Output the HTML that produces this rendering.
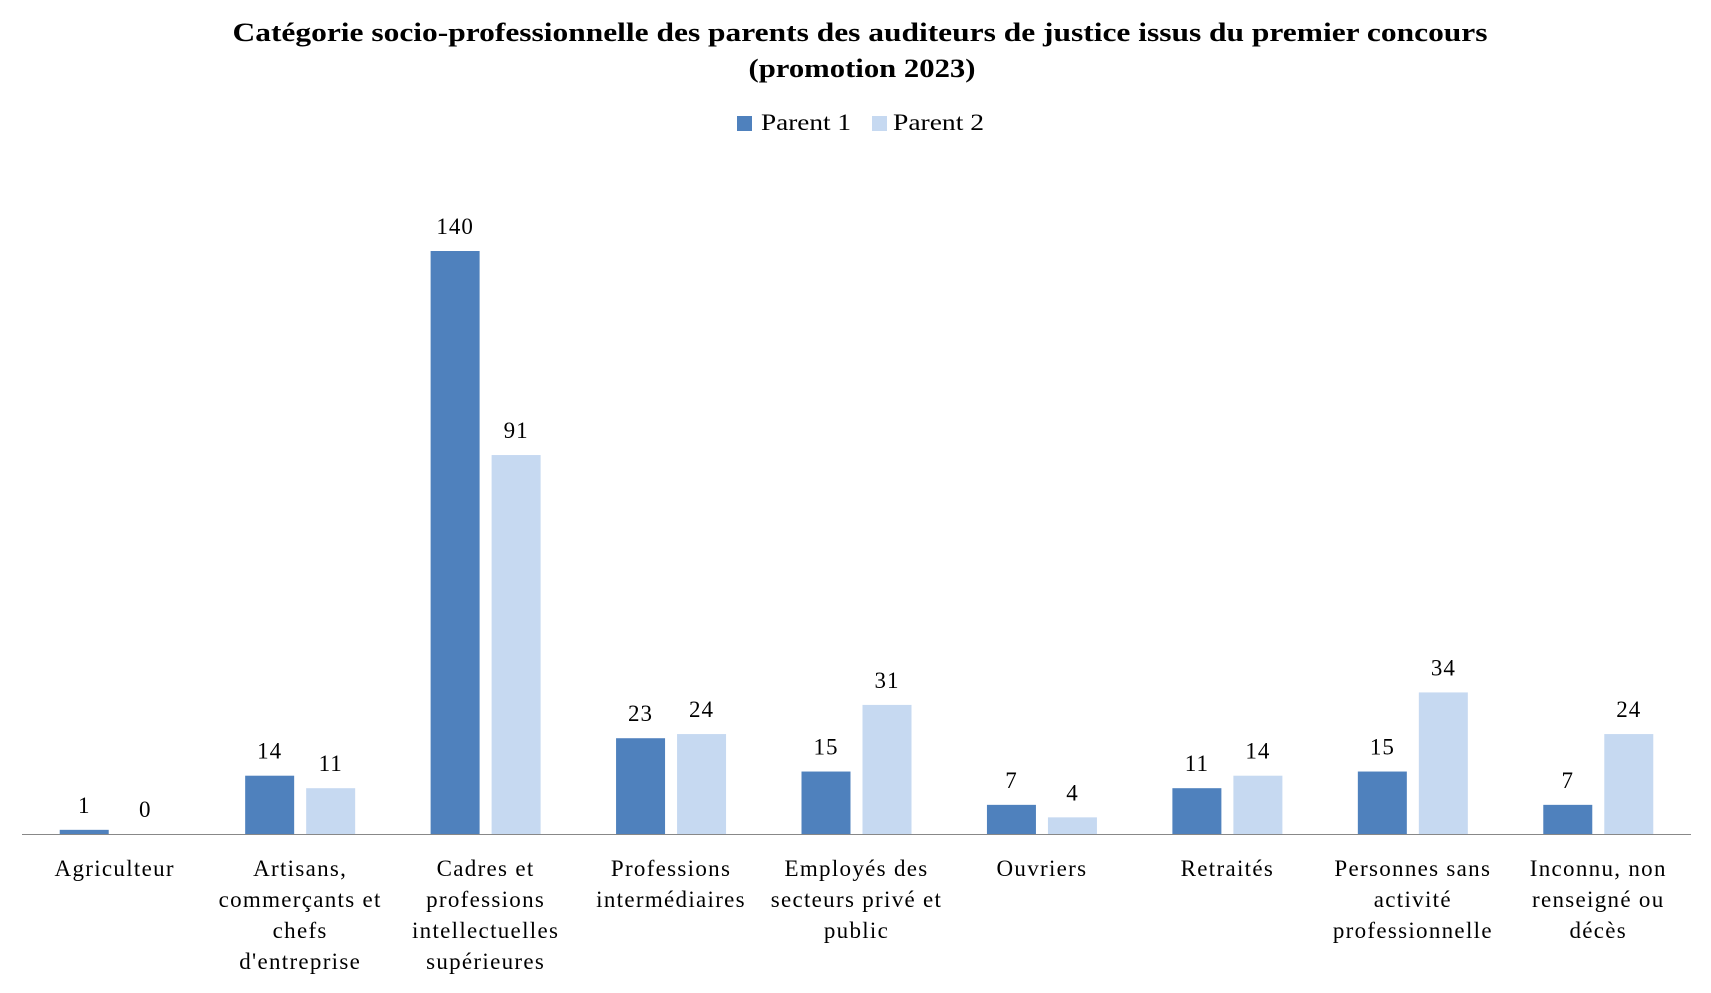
<!DOCTYPE html>
<html><head><meta charset="utf-8"><style>
body{margin:0;background:#fff;}
svg text{font-family:"Liberation Serif",serif;fill:#000;}
</style></head><body>
<svg id="chart" width="1711" height="988">
<text x="860" y="41" text-anchor="middle" font-size="26" font-weight="bold" textLength="1255" lengthAdjust="spacingAndGlyphs">Catégorie socio-professionnelle des parents des auditeurs de justice issus du premier concours</text>
<text x="862" y="77" text-anchor="middle" font-size="26" font-weight="bold" textLength="227" lengthAdjust="spacingAndGlyphs">(promotion 2023)</text>
<g>
<rect x="737" y="116" width="15" height="15" fill="#4f81bd"/>
<text x="761" y="130" font-size="23" textLength="90" lengthAdjust="spacingAndGlyphs">Parent 1</text>
<rect x="872" y="116" width="15" height="15" fill="#c6d9f1"/>
<text x="893" y="130" font-size="23" textLength="91" lengthAdjust="spacingAndGlyphs">Parent 2</text>
</g>
<g id="bars"></g>
<line x1="22" y1="834.5" x2="1691" y2="834.5" stroke="#888" stroke-width="1"/>
<g id="labels"></g>
</svg>
<script>
const categories = [["Agriculteur"],["Artisans,","commerçants et","chefs","d'entreprise"],["Cadres et","professions","intellectuelles","supérieures"],["Professions","intermédiaires"],["Employés des","secteurs privé et","public"],["Ouvriers"],["Retraités"],["Personnes sans","activité","professionnelle"],["Inconnu, non","renseigné ou","décès"]];
const parent1 = [1,14,140,23,15,7,11,15,7];
const parent2 = [0,11,91,24,31,4,14,34,24];
const NS="http://www.w3.org/2000/svg";
const x0=22, x1=1691, base=834, pxPerUnit=583/140;
const bw=(x1-x0)/categories.length;
const yScale=v=>base-v*pxPerUnit;
const cx=i=>x0+bw*(i+0.5);
const bars=document.getElementById('bars'), labels=document.getElementById('labels');
function mk(tag,attrs,parent){const e=document.createElementNS(NS,tag);for(const k in attrs)e.setAttribute(k,attrs[k]);parent.appendChild(e);return e;}
[[parent1,'#4f81bd',-55,'parent-1'],[parent2,'#c6d9f1',6,'parent-2']].forEach(([vals,col,off,nm])=>{
 vals.forEach((v,i)=>{
  const y=yScale(v);
  const r=mk('rect',{x:cx(i)+off,y:y,width:49,height:base-y,fill:col},bars);
  
  
  const t=mk('text',{x:cx(i)+off+24.5,y:y-17,'text-anchor':'middle','font-size':23,'letter-spacing':1},labels);
  t.textContent=v;
  
  
 });
});
categories.forEach((lines,i)=>{
 const t=mk('text',{x:cx(i),y:876,'text-anchor':'middle','font-size':23,'letter-spacing':1.3},labels);
 
 
 lines.forEach((ln,j)=>{const s=mk('tspan',{x:cx(i),y:876+j*31},t);s.textContent=ln;});
});
</script>
</body></html>
